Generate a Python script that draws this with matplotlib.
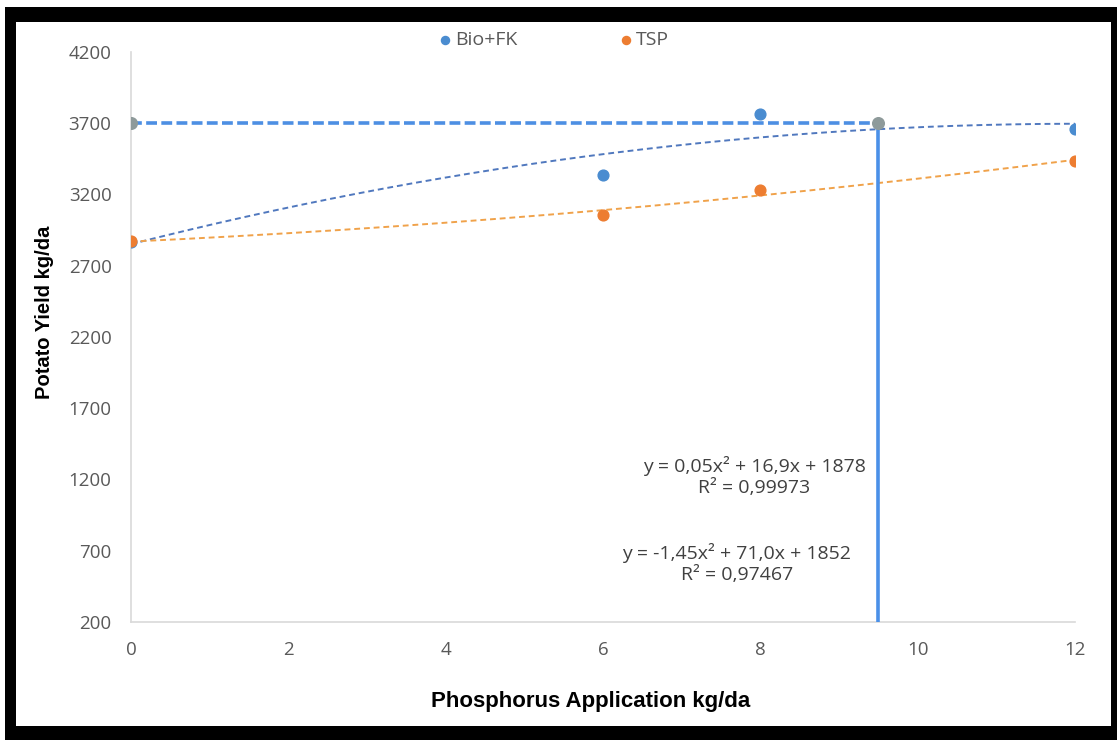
import numpy as np
import matplotlib.pyplot as plt
from matplotlib.patches import Rectangle

# data
p_rate = [0, 6, 8, 12]
bio_fk = [2870, 3337, 3765, 3660]
tsp = [2874, 3056, 3232, 3435]

opt_x = [0, 9.5]
opt_y = [3700, 3700]

x_ticks = [0, 2, 4, 6, 8, 10, 12]
y_ticks = [200, 700, 1200, 1700, 2200, 2700, 3200, 3700, 4200]

eq_bio = "y = 0,05x² + 16,9x + 1878\nR² = 0,99973"
eq_tsp = "y = -1,45x² + 71,0x + 1852\nR² = 0,97467"

blue = "#4A8CD0"
orange = "#ED7D31"
grey = "#8E9A9A"
tick_col = "#595959"

W, H = 1117, 740
fig = plt.figure(figsize=(W / 100, H / 100), dpi=100)

# black picture frame
fig.patches.append(Rectangle((5 / W, 0), 1 - 5 / W, 1 - 7 / H, transform=fig.transFigure,
                             facecolor="black", edgecolor="none", zorder=-10))
fig.patches.append(Rectangle((16 / W, 1 - 726 / H), (1111 - 16) / W, (726 - 22) / H,
                             transform=fig.transFigure, facecolor="white",
                             edgecolor="none", zorder=-9))

ax = fig.add_axes([131 / W, 1 - 622 / H, (1075 - 131) / W, (622 - 52) / H])
ax.set_facecolor("none")

# polynomial trendlines (order 2)
xs = np.linspace(0, 12, 200)
cb = np.polyfit(p_rate, bio_fk, 2)
ct = np.polyfit(p_rate, tsp, 2)
ax.plot(xs, np.polyval(cb, xs), color="#5078BE", lw=1.4, ls=(0, (3, 2)), zorder=2)
ax.plot(xs, np.polyval(ct, xs), color="#F0A24A", lw=1.4, ls=(0, (3, 2)), zorder=2)

# optimum lines
ax.plot(opt_x, opt_y, color="#4D8FE3", lw=2.6, ls=(0, (3, 1.2)), zorder=3)
ax.plot([opt_x[1], opt_x[1]], [opt_y[1], y_ticks[0]], color="#4A90E8", lw=2.6, zorder=3)

ax.scatter(p_rate, bio_fk, s=60, color=blue, zorder=4, label="Bio+FK")
ax.scatter(p_rate, tsp, s=60, color=orange, zorder=5, label="TSP")
ax.scatter(opt_x, opt_y, s=70, color=grey, zorder=6)

ax.set_xlim(0, 12)
ax.set_ylim(200, 4200)
ax.set_xticks(x_ticks)
ax.set_yticks(y_ticks)
for lab in ax.get_xticklabels() + ax.get_yticklabels():
    lab.set_fontfamily("Open Sans")
ax.tick_params(axis="both", length=0, labelsize=13.5, colors=tick_col)
ax.tick_params(axis="x", pad=14)
ax.tick_params(axis="y", pad=14)
for s in ["top", "right"]:
    ax.spines[s].set_visible(False)
for s in ["left", "bottom"]:
    ax.spines[s].set_color("#D9D9D9")
    ax.spines[s].set_linewidth(1.2)

ax.text(7.92, 1220, eq_bio, ha="center", va="center", fontsize=14, color="#404040",
        family="Open Sans", linespacing=1.25)
ax.text(7.7, 610, eq_tsp, ha="center", va="center", fontsize=14, color="#404040",
        family="Open Sans", linespacing=1.25)

fig.text(45 / W, 1 - 312 / H, "Potato Yield kg/da", rotation=90, ha="center", va="center",
         fontsize=14.5, fontweight="bold", family="Liberation Sans")
fig.text(591 / W, 1 - 701 / H, "Phosphorus Application kg/da", ha="center", va="center",
         fontsize=16, fontweight="bold", family="Liberation Sans")

leg = fig.legend(loc="center", bbox_to_anchor=(547 / W, 1 - 40 / H), ncol=2, frameon=False,
                 handletextpad=-0.5, columnspacing=4.6, markerscale=0.75,
                 prop={"family": "Open Sans", "size": 14})
for t in leg.get_texts():
    t.set_color(tick_col)

fig.savefig("out.png", dpi=100)
